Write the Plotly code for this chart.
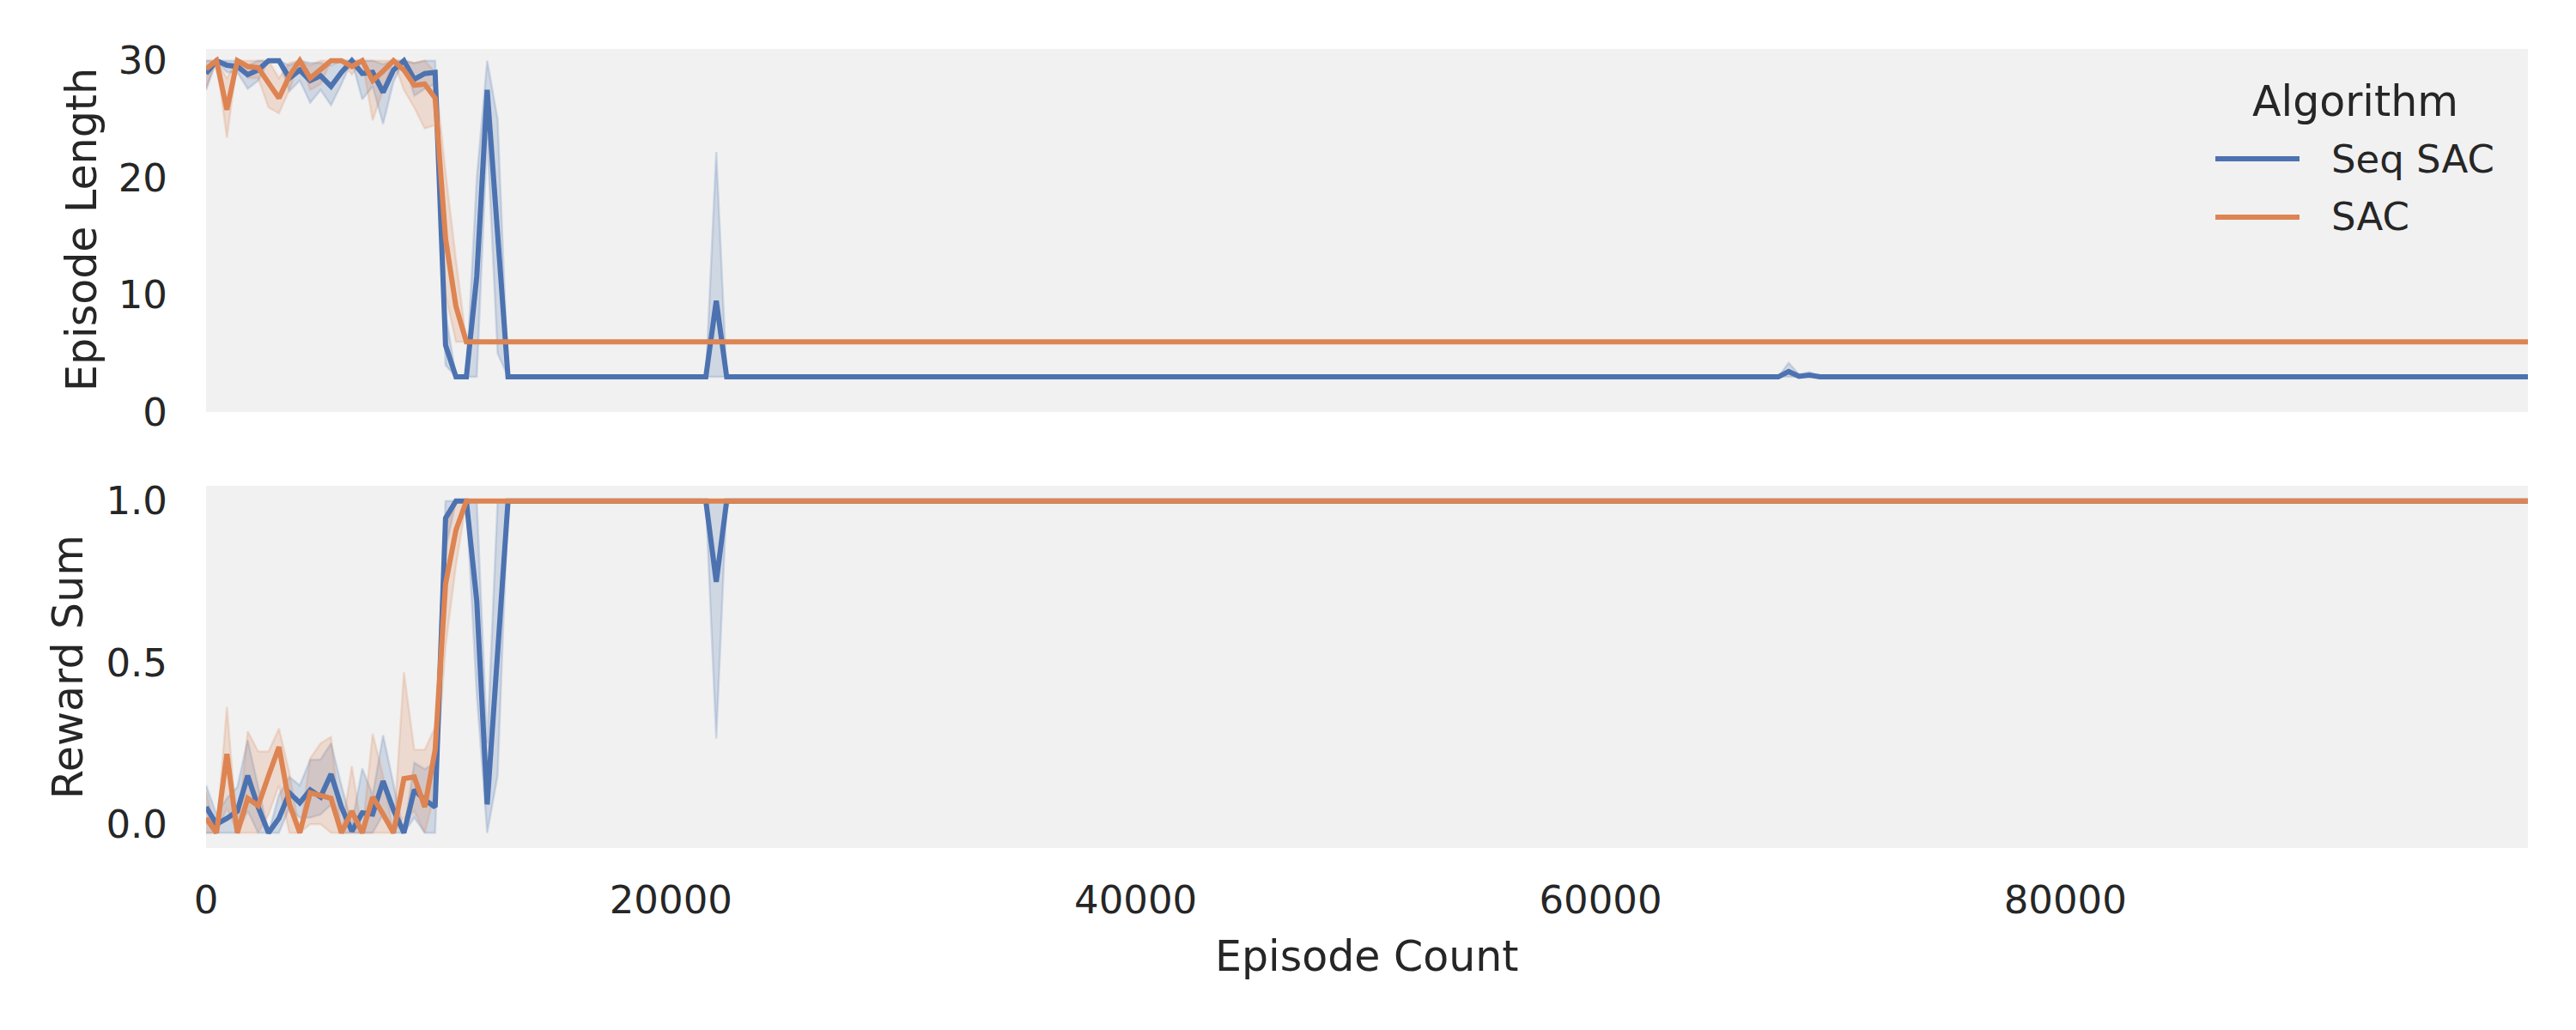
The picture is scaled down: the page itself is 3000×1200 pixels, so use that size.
import plotly.graph_objects as go

# ---------------- data ----------------
# Episode counts at which the curves were sampled (flat stretches stored by their end points)
seq_x = [0, 448, 896, 1344, 1792, 2240, 2688, 3136, 3584, 4032, 4480, 4928, 5376, 5824,
         6272, 6720, 7168, 7616, 8064, 8512, 8960, 9408, 9856, 10304, 10752, 11200, 11648,
         12096, 12544, 12992, 21504, 21952, 22400, 67648, 68096, 68544, 68992, 69440, 99904]
sac_x = [0, 448, 896, 1344, 1792, 2240, 2688, 3136, 3584, 4032, 4480, 4928, 5376, 5824,
         6272, 6720, 7168, 7616, 8064, 8512, 8960, 9408, 9856, 10304, 10752, 11200, 99904]

# Episode Length — Seq SAC
seq_len = [28.9, 30, 29.6, 29.5, 28.8, 29.2, 30, 30, 28.5, 29.2, 28.3, 28.7, 27.8, 29.0, 30,
           28.9, 29.0, 27.3, 29.2, 30, 28.4, 28.9, 29.0, 5.7, 3, 3, 11.6, 27.5, 15.2, 3,
           3, 9.5, 3, 3, 3.45, 3.05, 3.15, 3, 3]
seq_len_lo = [27.5, 30, 29.0, 29.0, 27.6, 28.3, 30, 30, 27.4, 28.3, 26.4, 27.5, 26.2, 28.0, 30,
              26.7, 27.8, 24.6, 28.2, 30, 27.0, 27.6, 28.0, 4.0, 3, 3, 3, 23.5, 5, 3,
              3, 3, 3, 3, 3, 3, 3, 3, 3]
seq_len_hi = [30, 30, 30, 30, 29.6, 30, 30, 30, 29.6, 30, 29.8, 29.8, 29.6, 30, 30,
              30, 30, 29.7, 30, 30, 29.8, 30, 30, 8.5, 3, 3, 20, 30, 25, 3,
              3, 22.2, 3, 3, 4.2, 3.2, 3.4, 3, 3]

# Episode Length — SAC
sac_len = [29.3, 30, 25.8, 30, 29.5, 29.4, 28.1, 26.8, 28.7, 30, 28.5, 29.2, 30, 30, 29.5,
           30, 28.3, 29.1, 30, 29.2, 27.9, 28.0, 26.8, 14.8, 9.0, 6.0, 6.0]
sac_len_lo = [27.7, 30, 23.4, 30, 28.5, 28.5, 26.0, 25.5, 27.5, 30, 27.5, 28.0, 30, 30, 28.8,
              30, 24.9, 27.5, 30, 27.5, 26.0, 24.2, 24.5, 10.0, 6.0, 6.0, 6.0]
sac_len_hi = [30, 30, 28.5, 30, 30, 30, 30, 28.5, 29.8, 30, 29.6, 30, 30, 30, 30,
              30, 30, 30, 30, 30, 29.8, 30, 29.0, 20.5, 13.0, 6.0, 6.0]

# Reward Sum — Seq SAC
seq_rew = [0.053, 0.0, 0.018, 0.04, 0.150, 0.053, -0.027, 0.018, 0.097, 0.066, 0.106, 0.084,
           0.155, 0.053, -0.022, 0.035, 0.031, 0.133, 0.044, -0.027, 0.106, 0.075, 0.053,
           0.947, 1.0, 1.0, 0.69, 0.061, 0.53, 1.0, 1.0, 0.75, 1.0, 1.0, 1.0, 1.0, 1.0, 1.0, 1.0]
seq_rew_lo = [-0.027, -0.027, -0.027, -0.027, 0.04, -0.027, -0.027, -0.027, 0.05, 0.02, 0.02,
              0.03, 0.06, -0.027, -0.027, -0.027, -0.027, 0.03, -0.027, -0.027, 0.02, -0.027,
              -0.027, 0.85, 1.0, 1.0, 0.4, -0.027, 0.15, 1.0, 1.0, 0.265, 1.0, 1.0, 1.0, 1.0,
              1.0, 1.0, 1.0]
seq_rew_hi = [0.12, 0.03, 0.08, 0.115, 0.26, 0.12, -0.027, 0.09, 0.146, 0.12, 0.199, 0.2,
              0.25, 0.12, 0.0, 0.172, 0.09, 0.275, 0.12, -0.027, 0.19, 0.17, 0.19,
              1.0, 1.0, 1.0, 1.0, 0.25, 1.0, 1.0, 1.0, 1.0, 1.0, 1.0, 1.0, 1.0, 1.0, 1.0, 1.0]

# Reward Sum — SAC
sac_rew = [0.018, -0.027, 0.217, -0.027, 0.08, 0.057, 0.150, 0.239, 0.062, -0.027, 0.097,
           0.088, 0.08, -0.027, 0.04, -0.027, 0.084, 0.031, -0.027, 0.141, 0.146, 0.053, 0.23,
           0.743, 0.91, 1.0, 1.0]
sac_rew_lo = [-0.027, -0.027, 0.05, -0.027, -0.027, -0.027, 0.03, 0.12, -0.027, -0.027, 0.0,
              0.0, -0.027, -0.027, -0.027, -0.027, -0.027, -0.027, -0.027, 0.02, 0.04, -0.027,
              0.1, 0.55, 0.8, 1.0, 1.0]
sac_rew_hi = [0.1, -0.027, 0.363, -0.027, 0.287, 0.225, 0.225, 0.296, 0.16, -0.027, 0.204,
              0.25, 0.27, -0.027, 0.18, -0.027, 0.28, 0.15, -0.027, 0.47, 0.23, 0.23, 0.3,
              0.92, 1.0, 1.0, 1.0]

algorithms = ["Seq SAC", "SAC"]
x_ticks = [0, 20000, 40000, 60000, 80000]
len_ticks = [0, 10, 20, 30]
rew_ticks = [0.0, 0.5, 1.0]

# ---------------- style ----------------
W, H = 3000, 1200
BLUE = (76, 114, 176)
ORANGE = (221, 132, 82)
BG = "#F1F1F1"
TXT = "#262626"
FONT = "DejaVu Sans"


def rgb(c, a=1.0):
    return f"rgba({c[0]},{c[1]},{c[2]},{a})"


def px_x(p):
    return p / W


def px_y(p):
    return 1 - p / H


fig = go.Figure()


def band(x, lo, hi, color, xa, ya):
    fig.add_trace(go.Scatter(
        x=list(x) + list(x)[::-1], y=list(hi) + list(lo)[::-1],
        fill="toself", fillcolor=rgb(color, 0.2),
        line=dict(color=rgb(color, 0.2), width=2.5),
        mode="lines", hoverinfo="skip", showlegend=False, xaxis=xa, yaxis=ya))


def line(x, y, color, xa, ya, name):
    fig.add_trace(go.Scatter(
        x=x, y=y, mode="lines", name=name,
        line=dict(color=rgb(color), width=6),
        showlegend=False, xaxis=xa, yaxis=ya))


# top panel: bands first, then lines
band(seq_x, seq_len_lo, seq_len_hi, BLUE, "x", "y")
band(sac_x, sac_len_lo, sac_len_hi, ORANGE, "x", "y")
line(seq_x, seq_len, BLUE, "x", "y", algorithms[0])
line(sac_x, sac_len, ORANGE, "x", "y", algorithms[1])
# bottom panel
band(seq_x, seq_rew_lo, seq_rew_hi, BLUE, "x2", "y2")
band(sac_x, sac_rew_lo, sac_rew_hi, ORANGE, "x2", "y2")
line(seq_x, seq_rew, BLUE, "x2", "y2", algorithms[0])
line(sac_x, sac_rew, ORANGE, "x2", "y2", algorithms[1])

xdom = [px_x(240), px_x(2944)]
xr = [min(seq_x), max(seq_x)]
tickfont = dict(family=FONT, size=45, color=TXT)

common_x = dict(domain=xdom, range=xr, showgrid=False, zeroline=False, showline=False,
                automargin=False, ticks="", tickvals=x_ticks, tickformat="d",
                tickfont=tickfont)
common_y = dict(showgrid=False, zeroline=False, showline=False, ticks="", automargin=False,
                tickfont=tickfont, ticklabelstandoff=44)

fig.update_layout(
    template="none",
    width=W, height=H,
    margin=dict(l=0, r=0, t=0, b=0, pad=0, autoexpand=False),
    paper_bgcolor="white", plot_bgcolor=BG,
    font=dict(family=FONT, color=TXT),
    showlegend=False,
    xaxis=dict(common_x, anchor="y", showticklabels=False),
    yaxis=dict(common_y, domain=[px_y(480), px_y(57)], range=[0, 31.0],
               tickvals=len_ticks, anchor="x"),
    xaxis2=dict(common_x, anchor="y2", matches="x", ticklabelstandoff=30),
    yaxis2=dict(common_y, domain=[px_y(988), px_y(566)], range=[-0.074, 1.047],
                tickvals=rew_ticks, tickformat=".1f", anchor="x2"),
)

# axis titles
ann = [
    dict(text="Episode Length", x=px_x(95), y=px_y(268), textangle=-90, font_size=49),
    dict(text="Reward Sum", x=px_x(79), y=px_y(777), textangle=-90, font_size=49),
    dict(text="Episode Count", x=px_x(1592), y=px_y(1114), font_size=49),
    dict(text="Algorithm", x=px_x(2743), y=px_y(118), font_size=49),
]
for a in ann:
    fig.add_annotation(xref="paper", yref="paper", x=a["x"], y=a["y"], text=a["text"],
                       showarrow=False, xanchor="center", yanchor="middle",
                       textangle=a.get("textangle", 0),
                       font=dict(family=FONT, size=a["font_size"], color=TXT))

# legend (drawn manually to match the long legend handles)
legend_rows = [(algorithms[0], BLUE, 185), (algorithms[1], ORANGE, 253)]
for name, color, yy in legend_rows:
    fig.add_shape(type="line", xref="paper", yref="paper",
                  x0=px_x(2580), x1=px_x(2678), y0=px_y(yy), y1=px_y(yy),
                  line=dict(color=rgb(color), width=6))
    fig.add_annotation(xref="paper", yref="paper", x=px_x(2713), y=px_y(yy), text=name,
                       showarrow=False, xanchor="left", yanchor="middle",
                       font=dict(family=FONT, size=45, color=TXT))

fig.write_html("out.html")
